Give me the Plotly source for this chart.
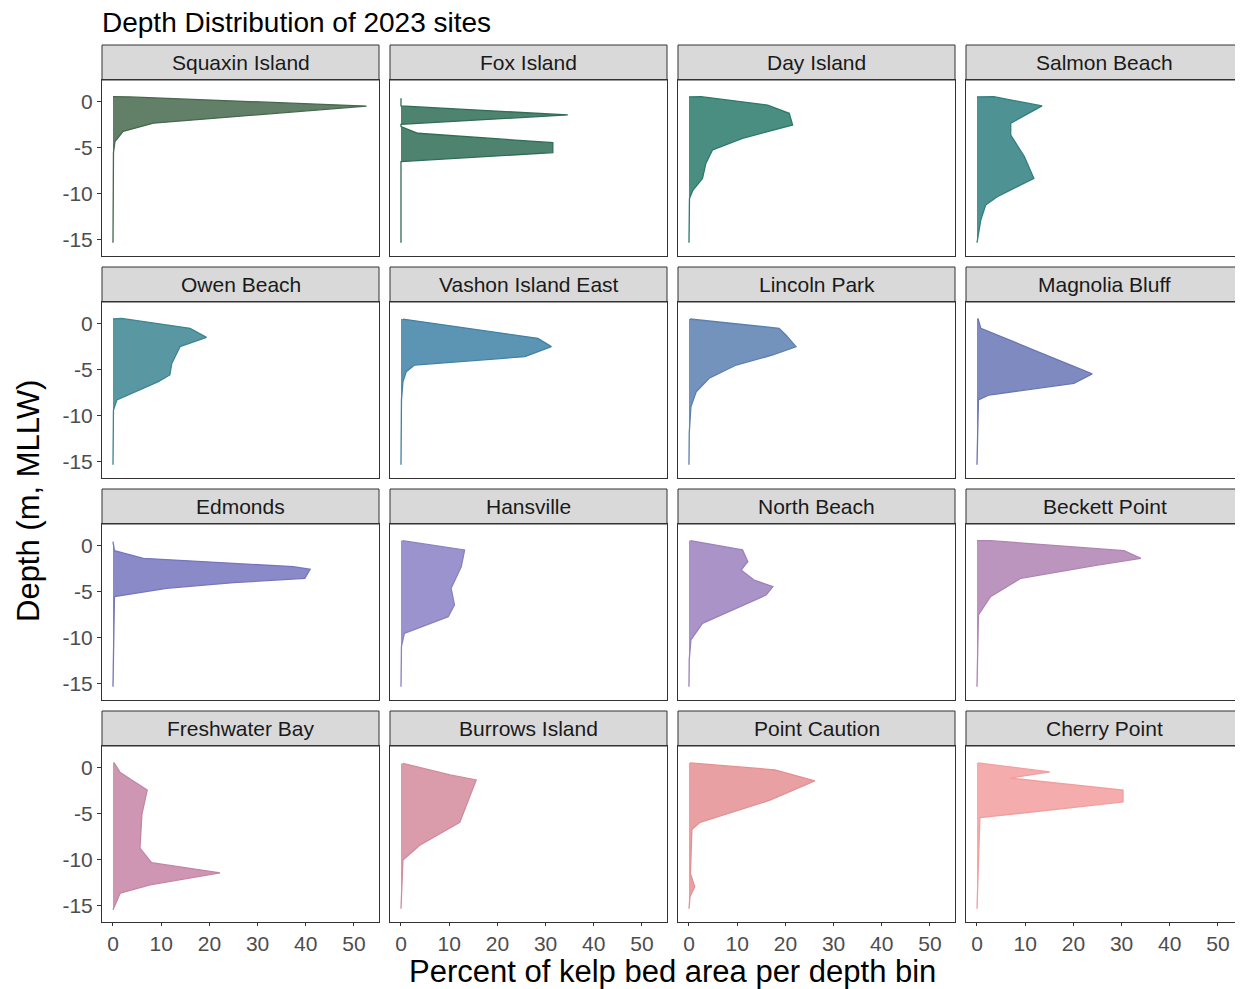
import plotly.graph_objects as go

W, H = 1243, 989
OFF = 8  # page body margin in the browser

sites = ["Squaxin Island", "Fox Island", "Day Island", "Salmon Beach",
         "Owen Beach", "Vashon Island East", "Lincoln Park", "Magnolia Bluff",
         "Edmonds", "Hansville", "North Beach", "Beckett Point",
         "Freshwater Bay", "Burrows Island", "Point Caution", "Cherry Point"]

colors = ["#46684d", "#2f6d57", "#2a7a6c", "#2f7f80",
          "#3c8592", "#4082a6", "#5a80b2", "#6877b5",
          "#7676c0", "#8a80c4", "#9a80bd", "#b083b3",
          "#c584a6", "#d38a9c", "#e58f92", "#f29e9e"]

squaxin_depth = [0.58, 0.55, -0.44, -2.3, -3.2, -4.3, -5.5, -15.3]
squaxin_pct = [0, 3.5, 52.6, 8.4, 2.1, 0.4, 0.1, 0]

fox_depth = [0.4, -0.43, -1.41, -2.43, -2.68, -3.4, -4.42, -5.5, -6.48, -15.3]
fox_pct = [0, 0, 34.6, 0, 0, 3.5, 31.5, 31.5, 0, 0]

day_depth = [0.55, 0.58, -0.33, -1.23, -2.5, -3.95, -5.2, -6.67, -8.3, -9.6, -10.5, -15.3]
day_pct = [0, 2.5, 16.3, 20.8, 21.5, 11.1, 4.9, 3.5, 2.8, 0.8, 0.1, 0]

salmon_depth = [0.55, 0.58, -0.43, -2.3, -3.6, -5.9, -8.3, -10.3, -11.2, -12.8, -15.3]
salmon_pct = [0, 3.5, 13.5, 7.0, 7.0, 9.8, 11.8, 4.2, 1.8, 0.8, 0]

owen_depth = [0.54, 0.6, -0.47, -1.45, -2.46, -4.28, -5.54, -6.27, -8.26, -9.35, -15.3]
owen_pct = [0, 1.8, 16.0, 19.4, 13.9, 12.2, 11.8, 9.4, 0.8, 0.1, 0]

vashon_depth = [0.54, -0.29, -1.56, -2.46, -3.55, -4.46, -5.18, -6.27, -8.26, -15.3]
vashon_pct = [0.4, 11.1, 28.4, 31.2, 25.7, 2.8, 1.1, 0.4, 0.1, 0]

lincoln_depth = [0.54, -0.47, -1.2, -2.46, -3.37, -4.46, -5.9, -7.36, -8.99, -11.9, -15.3]
lincoln_pct = [0.2, 18.7, 20.1, 22.2, 17.4, 9.8, 4.2, 1.5, 0.4, 0.05, 0]

magnolia_depth = [0.6, -0.47, -2.83, -5.43, -6.45, -7.72, -8.26, -15.3]
magnolia_pct = [0.2, 0.8, 11.8, 23.9, 20.1, 2.5, 0.3, 0]

edmonds_depth = [0.47, -0.51, -1.34, -2.25, -2.54, -3.51, -3.99, -4.6, -5.51, -15.3]
edmonds_pct = [0, 0.3, 6.3, 37.4, 40.9, 39.8, 25.0, 11.1, 0.3, 0]

hansville_depth = [0.58, -0.43, -2.25, -4.6, -6.41, -7.68, -9.49, -10.9, -15.3]
hansville_pct = [0.3, 13.2, 12.5, 10.4, 11.1, 9.8, 0.7, 0.1, 0]

northbeach_depth = [0.58, -0.43, -1.7, -2.61, -3.7, -4.42, -5.33, -8.41, -10.2, -12.4, -15.3]
northbeach_pct = [0.3, 11.1, 12.2, 10.8, 13.5, 17.4, 16.0, 2.8, 0.4, 0.05, 0]

beckett_depth = [0.58, 0.58, -0.51, -1.34, -2.07, -3.51, -5.51, -7.5, -15.3]
beckett_pct = [0, 2.8, 30.5, 34.0, 25.0, 9.1, 2.8, 0.3, 0]

freshwater_depth = [0.6, -0.5, -2.4, -5.0, -8.7, -10.3, -11.4, -12.7, -13.6, -15.4]
freshwater_pct = [0.2, 1.5, 7.1, 6.0, 5.6, 8.0, 22.2, 7.7, 1.5, 0]

burrows_depth = [0.5, -0.76, -1.3, -5.9, -8.4, -10.0, -15.3]
burrows_pct = [0.4, 10.2, 15.6, 12.2, 3.9, 0.4, 0]

caution_depth = [0.55, -0.2, -1.4, -3.5, -5.9, -6.7, -11.5, -12.9, -14.0, -15.3]
caution_pct = [0.2, 17.8, 26.1, 16.8, 2.3, 0.6, 0.3, 1.2, 0.2, 0]

cherry_depth = [0.55, -0.43, -1.1, -2.4, -3.7, -5.4, -15.3]
cherry_pct = [0.2, 15.1, 6.8, 30.3, 30.3, 0.6, 0]

depths = [squaxin_depth, fox_depth, day_depth, salmon_depth,
          owen_depth, vashon_depth, lincoln_depth, magnolia_depth,
          edmonds_depth, hansville_depth, northbeach_depth, beckett_depth,
          freshwater_depth, burrows_depth, caution_depth, cherry_depth]
pcts = [squaxin_pct, fox_pct, day_pct, salmon_pct,
        owen_pct, vashon_pct, lincoln_pct, magnolia_pct,
        edmonds_pct, hansville_pct, northbeach_pct, beckett_pct,
        freshwater_pct, burrows_pct, caution_pct, cherry_pct]

x_ticks = [0, 10, 20, 30, 40, 50]
y_ticks = [0, -5, -10, -15]
y_ticktext = ["0", "-5", "-10", "-15"]

# layout geometry (screen pixels)
col_left = [102, 390, 678, 966]
panel_w = 277
row_top = [80, 302, 524, 746]
panel_h = 176
strip_h = 34

def fx(px):
    return (px - OFF) / W

def fy(py):
    return 1 - (py - OFF) / H

def hex_rgba(h, a):
    h = h.lstrip("#")
    r, g, b = int(h[0:2], 16), int(h[2:4], 16), int(h[4:6], 16)
    return f"rgba({r},{g},{b},{a})"

fig = go.Figure()
layout = dict(
    width=W, height=H,
    margin=dict(l=0, r=0, t=0, b=0),
    paper_bgcolor="white", plot_bgcolor="white",
    showlegend=False,
    font=dict(family="Liberation Sans, Arial, sans-serif", color="#000000"),
)
shapes = []
annotations = []

for i, site in enumerate(sites):
    r, c = divmod(i, 4)
    n = i + 1
    xa = "x" if n == 1 else f"x{n}"
    ya = "y" if n == 1 else f"y{n}"
    fig.add_trace(go.Scatter(
        x=pcts[i], y=depths[i], mode="lines",
        line=dict(color=colors[i], width=1.3),
        fill="tozerox", fillcolor=hex_rgba(colors[i], 0.85),
        xaxis=xa, yaxis=ya, hoverinfo="skip",
    ))
    x0, x1 = col_left[c], col_left[c] + panel_w
    y0, y1 = row_top[r], row_top[r] + panel_h
    layout[f"xaxis{n if n > 1 else ''}"] = dict(
        domain=[fx(x0), fx(x1)], anchor=ya, range=[-2.28, 55.19],
        showgrid=False, zeroline=False,
        showline=True, mirror=True, linecolor="#333333", linewidth=1,
        tickvals=x_ticks, ticks="outside" if r == 3 else "",
        ticklen=3, tickcolor="#333333",
        showticklabels=(r == 3),
        tickfont=dict(size=21, color="#4d4d4d"),
    )
    layout[f"yaxis{n if n > 1 else ''}"] = dict(
        domain=[fy(y1), fy(y0)], anchor=xa, range=[-16.74, 2.39],
        showgrid=False, zeroline=False,
        showline=True, mirror=True, linecolor="#333333", linewidth=1,
        tickvals=y_ticks, ticktext=y_ticktext,
        ticks="outside" if c == 0 else "", ticklen=4, tickcolor="#333333",
        showticklabels=(c == 0),
        tickfont=dict(size=21, color="#4d4d4d"),
    )
    sy0, sy1 = y0 - strip_h - 1, y0
    shapes.append(dict(type="rect", xref="paper", yref="paper",
                       x0=fx(x0), x1=fx(x1), y0=fy(sy1), y1=fy(sy0),
                       fillcolor="#d9d9d9", line=dict(color="#333333", width=1),
                       layer="below"))
    annotations.append(dict(text=site, xref="paper", yref="paper",
                            x=fx((x0 + x1) / 2), y=fy((sy0 + sy1) / 2),
                            xanchor="center", yanchor="middle", showarrow=False,
                            font=dict(size=21, color="#1a1a1a")))

annotations.append(dict(text="Depth Distribution of 2023 sites", xref="paper", yref="paper",
                        x=fx(100), y=fy(22), xanchor="left", yanchor="middle",
                        showarrow=False, font=dict(size=28, color="#000000")))
annotations.append(dict(text="Percent of kelp bed area per depth bin", xref="paper", yref="paper",
                        x=fx(672), y=fy(971), xanchor="center", yanchor="middle",
                        showarrow=False, font=dict(size=31, color="#000000")))
annotations.append(dict(text="Depth (m, MLLW)", xref="paper", yref="paper",
                        x=fx(28), y=fy(501), xanchor="center", yanchor="middle",
                        textangle=-90, showarrow=False, font=dict(size=31, color="#000000")))

layout["shapes"] = shapes
layout["annotations"] = annotations
fig.update_layout(**layout)
fig.write_html("out.html")
